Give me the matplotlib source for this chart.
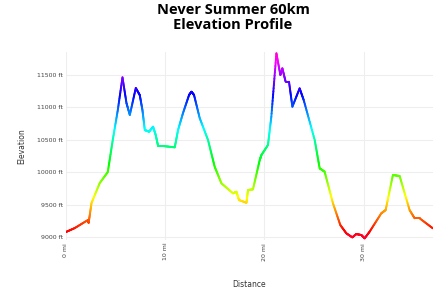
import matplotlib
matplotlib.use("Agg")
import matplotlib.pyplot as plt
import numpy as np
from matplotlib.collections import LineCollection
from matplotlib.colors import Normalize

# course profile (miles, feet)
distance_mi = [0.0, 0.91, 2.22, 2.3, 2.59, 3.42, 4.23, 4.73, 5.24, 5.71, 6.11, 6.45,
               7.05, 7.45, 7.72, 7.96, 8.39, 8.79, 9.06, 9.30, 9.80, 10.98, 11.31,
               11.81, 12.42, 12.66, 12.92, 13.49, 14.33, 15.0, 15.68, 16.85, 17.19,
               17.45, 18.20, 18.36, 18.86, 19.54, 19.71, 20.37, 20.71, 21.22, 21.62,
               21.82, 22.15, 22.49, 22.83, 23.56, 23.97, 25.08, 25.58, 26.08, 26.92,
               27.66, 28.27, 28.87, 29.27, 29.78, 30.11, 30.61, 31.79, 32.23, 32.96,
               33.64, 34.64, 35.15, 35.65, 36.99]
elevation_ft = [9077, 9139, 9262, 9220, 9525, 9833, 10003, 10497, 10960, 11464, 11068,
                10883, 11299, 11191, 10960, 10651, 10625, 10702, 10574, 10404, 10404,
                10384, 10651, 10913, 11191, 11242, 11191, 10836, 10497, 10085, 9829,
                9674, 9699, 9571, 9529, 9725, 9736, 10188, 10265, 10420, 10856, 11834,
                11500, 11603, 11396, 11396, 11010, 11294, 11114, 10497, 10060, 10008,
                9520, 9185, 9057, 8995, 9046, 9031, 8980, 9082, 9366, 9417, 9957, 9941,
                9417, 9289, 9289, 9134]

y_ticks = [9000, 9500, 10000, 10500, 11000, 11500]
x_ticks = [0, 10, 20, 30]

fig = plt.figure(figsize=(4.33, 2.92), dpi=100)
ax = fig.add_axes([0.152, 0.178, 0.848, 0.644])

x = np.array(distance_mi)
y = np.array(elevation_ft)

# split every leg into short pieces so the colour fades along the line
t = np.linspace(0, 1, 21)
segs, vals = [], []
for i in range(len(x) - 1):
    xs = x[i] + (x[i + 1] - x[i]) * t
    ys = y[i] + (y[i + 1] - y[i]) * t
    for j in range(len(t) - 1):
        segs.append([(xs[j], ys[j]), (xs[j + 1], ys[j + 1])])
        vals.append((ys[j] + ys[j + 1]) / 2)

lc = LineCollection(segs, cmap="gist_rainbow", norm=Normalize(9000, 11850),
                    linewidths=1.4, capstyle="round", joinstyle="round")
lc.set_array(np.array(vals))
ax.add_collection(lc)

ax.set_xlim(0, 37)
ax.set_ylim(8954, 11855)
ax.set_yticks(y_ticks)
ax.set_yticklabels(["{} ft".format(v) for v in y_ticks])
ax.set_xticks(x_ticks)
ax.set_xticklabels(["{} mi".format(v) for v in x_ticks], rotation=90)
ax.tick_params(length=0, labelsize=4.5, colors="#444444", pad=2)
ax.grid(True, color="#eeeeee", linewidth=0.8)
for s in ax.spines.values():
    s.set_visible(False)

ax.set_ylabel("Elevation", fontsize=5.5, color="#333333", labelpad=8)
ax.set_xlabel("Distance", fontsize=5.5, color="#333333", labelpad=14)

fig.text(0.538, 0.94, "Never Summer 60km\nElevation Profile", ha="center", va="center",
         fontsize=10.5, fontweight="bold", family="Open Sans", linespacing=1.1)

fig.savefig("out.png", dpi=100)
